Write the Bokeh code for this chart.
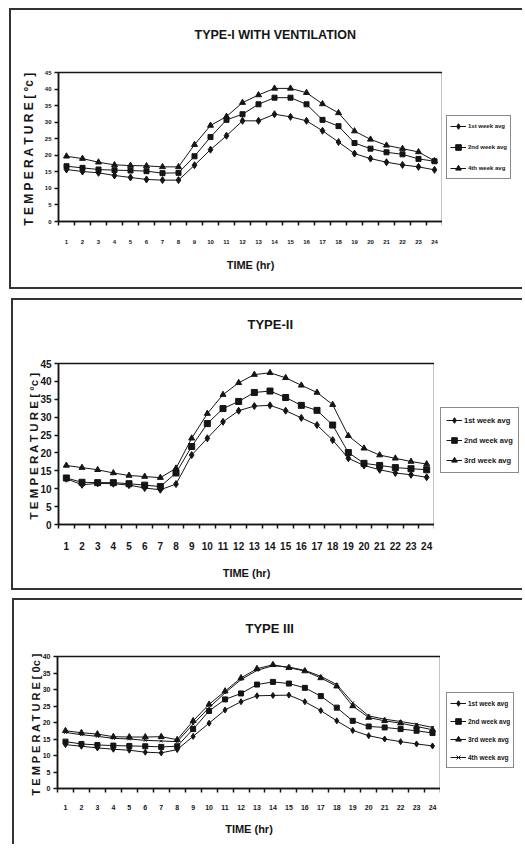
from bokeh.plotting import figure
from bokeh.models import FixedTicker, Legend, LegendItem
from bokeh.layouts import column, row
from bokeh.embed import file_html
from bokeh.resources import INLINE

# ---------------- data ----------------
hours = list(range(1, 25))

p1_title = "TYPE-I WITH VENTILATION"
p1_labels = ["1st week avg", "2nd week avg", "4th week avg"]
p1_week1 = [15.7, 15.1, 14.7, 13.9, 13.3, 12.7, 12.5, 12.5, 17.0, 21.7, 25.9, 30.4,
            30.4, 32.4, 31.6, 30.4, 27.4, 24.0, 20.5, 19.0, 17.9, 17.1, 16.5, 15.6]
p1_week2 = [16.7, 16.2, 15.7, 15.5, 15.4, 15.2, 14.6, 14.7, 19.7, 25.5, 30.7, 32.4,
            35.4, 37.4, 37.4, 35.4, 30.7, 28.8, 23.7, 22.0, 20.9, 20.3, 18.9, 18.2]
p1_week4 = [19.7, 19.0, 17.9, 17.1, 16.9, 16.8, 16.5, 16.5, 23.2, 29.0, 31.7, 35.9,
            38.2, 40.2, 40.2, 38.9, 35.5, 32.8, 27.3, 24.8, 23.0, 22.0, 21.0, 18.3]

p2_title = "TYPE-II"
p2_labels = ["1st week avg", "2nd week avg", "3rd week avg"]
p2_week1 = [12.8, 11.1, 11.5, 11.4, 11.0, 10.2, 9.7, 11.3, 19.4, 24.1, 28.7, 31.8,
            33.1, 33.3, 31.8, 29.8, 27.8, 23.6, 18.5, 16.5, 15.3, 14.4, 13.9, 13.2]
p2_week2 = [13.0, 11.8, 11.7, 11.7, 11.4, 11.0, 10.6, 14.4, 21.8, 28.2, 32.4, 34.4,
            36.9, 37.3, 35.5, 33.3, 31.9, 27.8, 20.1, 17.1, 16.5, 15.9, 15.6, 15.3]
p2_week3 = [16.5, 15.9, 15.3, 14.4, 13.7, 13.4, 13.1, 15.7, 24.1, 31.0, 36.3, 39.6,
            41.9, 42.4, 41.0, 38.9, 36.9, 33.5, 24.8, 21.3, 19.4, 18.5, 17.6, 16.9]

p3_title = "TYPE III"
p3_labels = ["1st week avg", "2nd week avg", "3rd week avg", "4th week avg"]
p3_week1 = [13.3, 12.8, 12.3, 11.9, 11.6, 11.0, 10.8, 11.8, 15.8, 19.8, 23.8, 26.3,
            28.1, 28.2, 28.3, 26.3, 23.6, 20.5, 17.6, 16.0, 15.0, 14.2, 13.5, 12.9]
p3_week2 = [14.2, 13.5, 13.2, 13.0, 12.9, 12.8, 12.6, 12.8, 18.0, 23.5, 27.0, 28.8,
            31.5, 32.3, 31.8, 30.5, 28.0, 24.5, 20.5, 18.8, 18.5, 18.0, 17.5, 16.8]
p3_week3 = [17.5, 16.9, 16.5, 15.7, 15.6, 15.6, 15.7, 14.8, 20.5, 25.5, 29.5, 33.5,
            36.3, 37.5, 36.6, 35.6, 33.5, 31.0, 25.0, 21.5, 20.5, 19.8, 18.8, 17.8]
p3_week4 = [17.0, 16.3, 15.8, 15.2, 15.0, 14.6, 14.4, 14.2, 19.5, 24.5, 29.0, 33.0,
            35.8, 37.2, 36.8, 35.8, 34.0, 31.5, 26.0, 22.0, 21.0, 20.3, 19.5, 18.5]

x_title = "TIME (hr)"
y_title_deg = "T E M P E R A T U R E  [ °c ]"
y_title_zero = "T E M P E R A T U R E  [ 0c ]"

FONT = "Liberation Sans"
INK = "#151515"
BOX = "2px solid #333333"


def make_panel(title, series, labels, markers, ymax, height, main_w, leg_w, borders,
               title_font, title_gap, tick_font, legend_font, ylab_font, title_offset,
               xtick_standoff, xlab_standoff, ylab_standoff, legend_loc, legend_spacing,
               legend_padding, ylabel, bottom_border, row_margin):
    left, right, top, bottom = borders
    main_styles = {"border-left": BOX, "border-top": BOX}
    leg_styles = {"border-top": BOX}
    if bottom_border:
        main_styles["border-bottom"] = BOX
        leg_styles["border-bottom"] = BOX

    # an empty second title line keeps the title high above the plot frame
    shown_title = title + "\n" if title_gap else title
    p = figure(width=main_w, height=height, x_range=(0.5, 24.5), y_range=(0, ymax),
               output_backend="svg", toolbar_location=None, title=shown_title,
               min_border_left=left, min_border_right=right,
               min_border_top=top, min_border_bottom=bottom,
               background_fill_color="white", border_fill_color="white",
               styles=main_styles)
    p.grid.visible = False
    p.outline_line_color = INK
    p.outline_line_width = 1.5

    p.title.align = "left"
    p.title.offset = title_offset
    p.title.vertical_align = "top"
    p.title.standoff = top - 33 if title_gap else top - 18
    p.title.text_font = FONT
    p.title.text_font_style = "bold"
    p.title.text_font_size = title_font
    p.title.text_color = INK

    xa = p.xaxis[0]
    xa.ticker = FixedTicker(ticks=hours, minor_ticks=[h - 0.5 for h in range(1, 26)])
    xa.major_tick_out = 0
    xa.major_tick_in = 0
    xa.minor_tick_out = 4
    xa.minor_tick_in = 0
    xa.minor_tick_line_color = INK
    xa.minor_tick_line_width = 1.5
    xa.axis_line_color = INK
    xa.axis_line_width = 1.5
    xa.major_label_standoff = xtick_standoff
    xa.major_label_text_font = FONT
    xa.major_label_text_font_style = "bold"
    xa.major_label_text_font_size = tick_font
    xa.major_label_text_color = INK
    xa.axis_label = x_title
    xa.axis_label_standoff = xlab_standoff
    xa.axis_label_text_font = FONT
    xa.axis_label_text_font_style = "bold"
    xa.axis_label_text_font_size = "11px"
    xa.axis_label_text_color = INK

    ya = p.yaxis[0]
    ya.ticker = FixedTicker(ticks=list(range(0, ymax + 1, 5)))
    ya.major_tick_out = 4
    ya.major_tick_in = 0
    ya.major_tick_line_color = INK
    ya.major_tick_line_width = 1.5
    ya.minor_tick_line_color = None
    ya.axis_line_color = INK
    ya.axis_line_width = 1.5
    ya.major_label_standoff = 3
    ya.major_label_text_font = FONT
    ya.major_label_text_font_style = "bold"
    ya.major_label_text_font_size = tick_font
    ya.major_label_text_color = INK
    ya.axis_label = ylabel
    ya.axis_label_standoff = ylab_standoff
    ya.axis_label_text_font = FONT
    ya.axis_label_text_font_style = "bold"
    ya.axis_label_text_font_size = ylab_font
    ya.axis_label_text_color = INK

    # legend lives in a narrow companion figure to the right of the chart
    lf = figure(width=leg_w, height=height, x_range=(-3, -2), y_range=(0, ymax),
                output_backend="svg", toolbar_location=None,
                x_axis_location=None, y_axis_location=None,
                min_border_left=0, min_border_right=0, min_border_top=0, min_border_bottom=0,
                background_fill_color="white", border_fill_color="white",
                styles=leg_styles)
    lf.grid.visible = False
    lf.outline_line_color = None

    items = []
    for ys, lab, (mk, ms) in zip(series, labels, markers):
        p.line(hours, ys, line_color=INK, line_width=1)
        p.scatter(hours, ys, marker=mk, size=ms, fill_color=INK, line_color=INK)
        ln = lf.line(hours, ys, line_color=INK, line_width=1)
        sc = lf.scatter(hours, ys, marker=mk, size=ms, fill_color=INK, line_color=INK)
        items.append(LegendItem(label=lab, renderers=[ln, sc]))

    leg = Legend(items=items, location=legend_loc)
    leg.border_line_color = INK
    leg.border_line_width = 1.5
    leg.background_fill_color = "white"
    leg.background_fill_alpha = 1
    leg.label_text_font = FONT
    leg.label_text_font_style = "bold"
    leg.label_text_font_size = legend_font
    leg.label_text_color = INK
    leg.glyph_width = 16
    leg.glyph_height = 14
    leg.label_height = 14
    leg.label_standoff = 2
    leg.padding = legend_padding
    leg.spacing = legend_spacing
    leg.margin = 0
    lf.add_layout(leg)
    return row(p, lf, spacing=0, margin=row_margin)


panel1 = make_panel(p1_title, [p1_week1, p1_week2, p1_week4], p1_labels,
                    [("diamond", 7), ("square", 5), ("triangle", 6)], 45, 281, 433, 80,
                    (47, 2, 62, 70), "12.5px", True, "6px", "6px", "12px", 136,
                    14, 12, 6, (4, 42), 7, 3, y_title_deg, True, (8, 0, 0, 9))
panel2 = make_panel(p2_title, [p2_week1, p2_week2, p2_week3], p2_labels,
                    [("diamond", 7), ("square", 6), ("triangle", 6)], 45, 292, 423, 88,
                    (45, 2, 63, 68), "13px", True, "10px", "7.5px", "11.5px", 189,
                    13, 14, -3, (6, 51), 6, 5, y_title_deg, True, (9, 0, 0, 11))
panel3 = make_panel(p3_title, [p3_week1, p3_week2, p3_week3, p3_week4], p3_labels,
                    [("diamond", 6), ("square", 5), ("triangle", 6), ("x", 4)], 40, 246, 428, 82,
                    (43, 2, 56, 58), "13px", False, "7px", "6.5px", "11px", 188,
                    12, 10, -2, (6, 20), 4, 3, y_title_zero, False, (8, 0, 0, 12))

layout = column(panel1, panel2, panel3, spacing=0)
open("out.html", "w").write(file_html(layout, INLINE))
